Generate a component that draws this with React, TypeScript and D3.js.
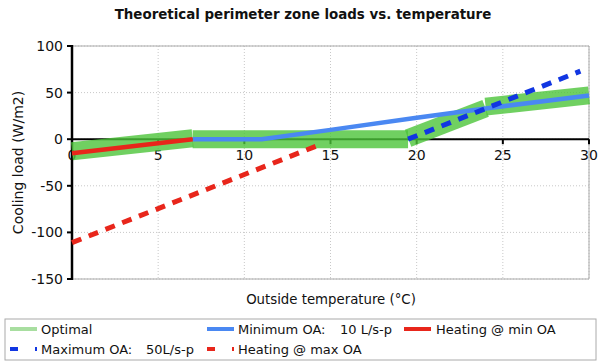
import React from "react";
import * as d3 from "d3";

const title = "Theoretical perimeter zone loads vs. temperature";
const xTicks = [0, 5, 10, 15, 20, 25, 30];
const yTicks = [100, 50, 0, -50, -100, -150];

// Optimal: separate segments
const optimalSegments: [number, number][][] = [
  [[0, -13], [7, 1]],
  [[7, 0], [19.5, 0]],
  [[19.5, 1], [24, 33]],
  [[24, 35], [30, 47]],
];
const minOA: [number, number][] = [[7, 0], [11, 0], [15, 10], [20, 23], [24, 33], [30, 47]];
const heatMin: [number, number][] = [[0, -15], [7, 0]];
const maxOA: [number, number][] = [[19.5, 0], [29.5, 73]];
const heatMax: [number, number][] = [[0, -111], [14.5, -5]];

const FONT = "'DejaVu Sans', Verdana, sans-serif";

export default function App() {
  const x = d3.scaleLinear().domain([0, 30]).range([72, 589]);
  const y = d3.scaleLinear().domain([-150, 100]).range([279, 46]);
  const line = d3.line<[number, number]>().x((d) => x(d[0])).y((d) => y(d[1]));

  const green = "#4cc43a";
  const blue = "#4a88f2";
  const red = "#e8261b";
  const dblue = "#1136e2";

  return (
    <svg width={600} height={362} style={{ position: "absolute", left: 0, top: 0, background: "#fff" }} fontFamily={FONT}>
      <text x={303} y={19} textAnchor="middle" fontSize={13.4} fontWeight="bold" fill="#111">{title}</text>
      {/* grid */}
      {xTicks.map((t) => (
        <line key={"gx" + t} x1={x(t)} x2={x(t)} y1={y(100)} y2={y(-150)} stroke="#c8c8c8" strokeDasharray="1,2" />
      ))}
      {yTicks.map((t) => (
        <line key={"gy" + t} x1={x(0)} x2={x(30)} y1={y(t)} y2={y(t)} stroke="#c8c8c8" strokeDasharray="1,2" />
      ))}
      {/* frame */}
      <line x1={x(0)} x2={x(30)} y1={y(100)} y2={y(100)} stroke="#aaa" />
      <line x1={x(30)} x2={x(30)} y1={y(100)} y2={y(-150)} stroke="#aaa" />
      <line x1={x(0)} x2={x(30)} y1={y(-150)} y2={y(-150)} stroke="#aaa" />
      {/* x axis at 0 */}
      <line x1={x(0)} x2={x(30)} y1={y(0)} y2={y(0)} stroke="#000" strokeWidth={2} />
      {xTicks.map((t) => (
        <g key={"xt" + t}>
          <line x1={x(t)} x2={x(t)} y1={y(0)} y2={y(0) + 5} stroke="#000" strokeWidth={2} />
          <text x={x(t)} y={y(0) + 21} textAnchor="middle" fontSize={14} fill="#111">{t}</text>
        </g>
      ))}
      {/* y axis */}
      <line x1={x(0)} x2={x(0)} y1={y(100) - 1} y2={y(-150) + 1} stroke="#000" strokeWidth={2.5} />
      {yTicks.map((t) => (
        <g key={"yt" + t}>
          <line x1={x(0) - 5} x2={x(0)} y1={y(t)} y2={y(t)} stroke="#000" strokeWidth={2} />
          <text x={x(0) - 9} y={y(t) + 5} textAnchor="end" fontSize={14} fill="#111">{t}</text>
        </g>
      ))}
      <text transform={`translate(23,${(y(100) + y(-150)) / 2}) rotate(-90)`} textAnchor="middle" fontSize={14} fill="#111">Cooling load (W/m2)</text>
      <text x={331} y={304} textAnchor="middle" fontSize={13.3} fill="#111">Outside temperature (°C)</text>
      {/* series */}
      {optimalSegments.map((s, i) => (
        <path key={"opt" + i} d={line(s) || ""} fill="none" stroke={green} strokeOpacity={0.8} strokeWidth={18} strokeLinecap="butt" />
      ))}
      <path d={line(minOA) || ""} fill="none" stroke={blue} strokeWidth={4.5} strokeLinejoin="round" />
      <path d={line(heatMin) || ""} fill="none" stroke={red} strokeWidth={4.5} />
      <path d={line(maxOA) || ""} fill="none" stroke={dblue} strokeWidth={5} strokeDasharray="10,8" />
      <path d={line(heatMax) || ""} fill="none" stroke={red} strokeWidth={5} strokeDasharray="10,8" />
      {/* legend */}
      <rect x={5} y={319} width={591} height={41} fill="#fff" stroke="#aaa" />
      <line x1={10} x2={37} y1={329} y2={329} stroke="#a8dea0" strokeWidth={4} />
      <text x={41} y={334} fontSize={13} fill="#111">Optimal</text>
      <line x1={207} x2={234} y1={329} y2={329} stroke={blue} strokeWidth={4} />
      <text y={334} fontSize={13} fill="#111">
        <tspan x={238}>Minimum OA:</tspan>
        <tspan x={340}>10 L/s-p</tspan>
      </text>
      <line x1={404} x2={431} y1={329} y2={329} stroke={red} strokeWidth={4} />
      <text x={436} y={334} fontSize={13} fill="#111">Heating @ min OA</text>
      <line x1={10} x2={37} y1={349} y2={349} stroke={dblue} strokeWidth={4} strokeDasharray="8,17" />
      <text y={354} fontSize={13} fill="#111">
        <tspan x={41}>Maximum OA:</tspan>
        <tspan x={146}>50L/s-p</tspan>
      </text>
      <line x1={207} x2={234} y1={349} y2={349} stroke={red} strokeWidth={4} strokeDasharray="8,17" />
      <text x={238} y={354} fontSize={13} fill="#111">Heating @ max OA</text>
    </svg>
  );
}
